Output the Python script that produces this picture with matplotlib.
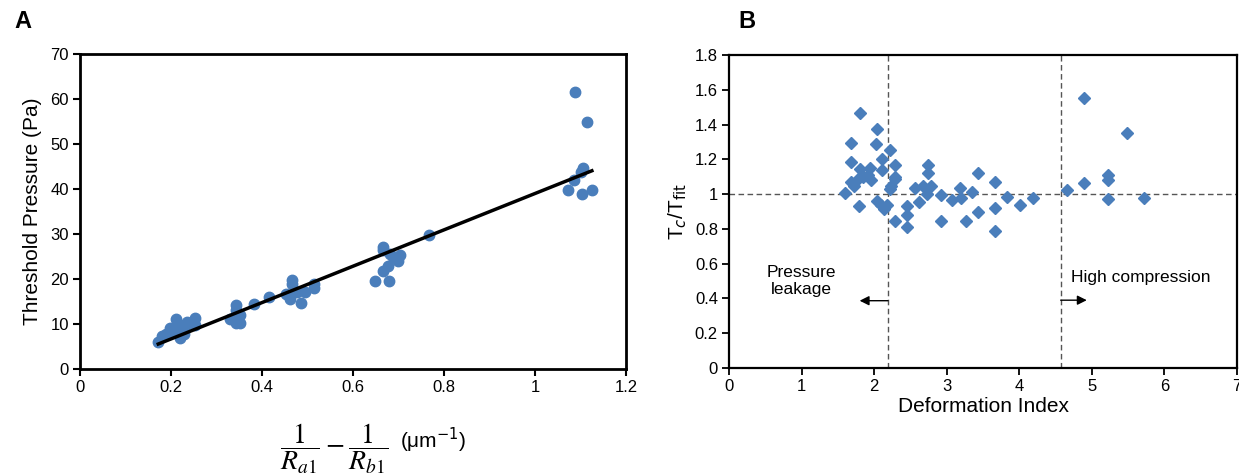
import matplotlib
matplotlib.use("Agg")
import matplotlib.pyplot as plt
import numpy as np

plt.rcParams['font.family'] = ['Liberation Sans', 'DejaVu Sans']

# ---------------- Panel A data ----------------
a_x = [1.087, 1.115, 1.105, 1.101, 1.086, 1.072, 1.103, 1.125,
       0.766, 0.665, 0.665, 0.681, 0.687, 0.704, 0.700, 0.678, 0.666, 0.649, 0.680,
       0.466, 0.466, 0.452, 0.462, 0.478, 0.494, 0.485, 0.514, 0.514, 0.415, 0.382,
       0.342, 0.342, 0.330, 0.348, 0.352, 0.342, 0.352,
       0.172, 0.181, 0.198, 0.212, 0.216, 0.220, 0.220, 0.232, 0.236, 0.252, 0.252,
       0.205, 0.189, 0.228]
a_y = [61.5, 55.0, 44.7, 43.8, 42.0, 39.7, 38.8, 39.7,
       29.8, 27.2, 26.5, 25.6, 24.9, 25.4, 24.1, 22.8, 21.8, 19.5, 19.5,
       19.7, 18.9, 16.7, 15.6, 17.1, 17.2, 14.6, 18.9, 18.0, 15.9, 14.5,
       14.3, 13.2, 11.1, 10.8, 10.2, 10.2, 12.1,
       6.1, 7.4, 9.1, 11.1, 10.0, 8.2, 6.8, 9.7, 10.5, 11.3, 9.7,
       8.2, 7.8, 7.8]
fit_slope = 40.4
fit_intercept = -1.4
a_xticks = [0, 0.2, 0.4, 0.6, 0.8, 1, 1.2]
a_xticklabels = ['0', '0.2', '0.4', '0.6', '0.8', '1', '1.2']
a_yticks = [0, 10, 20, 30, 40, 50, 60, 70]

# ---------------- Panel B data ----------------
b_x = [1.807, 2.045, 2.022, 1.683, 2.219, 1.683, 2.287, 1.807, 1.944, 2.104,
       2.104, 1.921, 1.958, 1.853, 1.784, 1.683, 1.729, 2.287, 2.287, 2.232,
       2.219, 1.592, 1.798, 2.036, 2.095, 2.136, 2.177, 2.287, 2.447, 2.447,
       2.447, 2.562, 2.676, 2.790, 2.736, 2.736, 2.722, 2.617, 2.928, 2.928,
       3.074, 3.179, 3.202, 3.262, 3.349, 3.431, 3.431, 3.660, 3.660, 3.660,
       3.829, 4.003, 4.195, 4.657, 4.886, 4.886, 5.229, 5.229, 5.229, 5.489,
       5.718]
b_y = [1.469, 1.373, 1.287, 1.296, 1.254, 1.187, 1.168, 1.143, 1.149, 1.136,
       1.200, 1.111, 1.082, 1.101, 1.086, 1.067, 1.047, 1.086, 1.101, 1.044,
       1.028, 1.009, 0.929, 0.961, 0.938, 0.915, 0.938, 0.843, 0.929, 0.877,
       0.810, 1.038, 1.044, 1.044, 1.168, 1.124, 1.002, 0.954, 0.996, 0.843,
       0.967, 1.034, 0.977, 0.843, 1.011, 1.124, 0.896, 1.072, 0.919, 0.789,
       0.982, 0.938, 0.977, 1.021, 1.551, 1.063, 1.111, 1.082, 0.971, 1.354,
       0.980]
b_xticks = [0, 1, 2, 3, 4, 5, 6, 7]
b_yticks = [0, 0.2, 0.4, 0.6, 0.8, 1.0, 1.2, 1.4, 1.6, 1.8]
b_yticklabels = ['0', '0.2', '0.4', '0.6', '0.8', '1', '1.2', '1.4', '1.6', '1.8']
leak_threshold = 2.19
compress_threshold = 4.57
ref_level = 1.0

blue = '#4a7ebb'

W, H = 1239, 473
fig = plt.figure(figsize=(W / 100, H / 100), dpi=100)

# ---------------- Panel A ----------------
axA = fig.add_axes([80 / W, 1 - 369 / H, 546 / W, 315 / H])
axA.errorbar(a_x, a_y, xerr=0.006, yerr=0.4, fmt='o', ms=7.5, color=blue,
             ecolor=blue, elinewidth=1.5, capsize=0, zorder=3)
xf = np.array([min(a_x), max(a_x)])
axA.plot(xf, fit_slope * xf + fit_intercept, color='black', lw=2.5, zorder=4)
axA.set_xlim(0, 1.2)
axA.set_ylim(0, 70)
axA.set_xticks(a_xticks)
axA.set_xticklabels(a_xticklabels)
axA.set_yticks(a_yticks)
for s in axA.spines.values():
    s.set_linewidth(2.0)
    s.set_color('black')
axA.tick_params(direction='out', length=5, width=1.5, labelsize=12, pad=3)
axA.set_ylabel('Threshold Pressure (Pa)', fontsize=15, labelpad=6)
fig.text(280 / W, 1 - 449 / H, r'$\dfrac{1}{R_{a1}}-\dfrac{1}{R_{b1}}$',
         fontsize=20, math_fontfamily='stix', ha='left', va='center')
fig.text(400 / W, 1 - 440 / H, '(μm$^{-1}$)', fontsize=15, ha='left', va='center')
fig.text(14 / W, 1 - 22 / H, 'A', fontsize=17, fontweight='bold', ha='left', va='center')

# ---------------- Panel B ----------------
axB = fig.add_axes([729 / W, 1 - 368 / H, 508 / W, 313 / H])
axB.errorbar(b_x, b_y, xerr=0.05, yerr=0.025, fmt='D', ms=6.5, color=blue,
             ecolor=blue, elinewidth=1.2, capsize=0, zorder=3)
dash = dict(color='#555555', lw=1.0, ls=(0, (4, 2.5)), zorder=2)
axB.axhline(ref_level, **dash)
axB.axvline(leak_threshold, **dash)
axB.axvline(compress_threshold, **dash)
axB.set_xlim(0, 7)
axB.set_ylim(0, 1.8)
axB.set_xticks(b_xticks)
axB.set_yticks(b_yticks)
axB.set_yticklabels(b_yticklabels)
for s in axB.spines.values():
    s.set_linewidth(1.6)
    s.set_color('black')
axB.tick_params(direction='out', length=5, width=1.3, labelsize=12, pad=3)
axB.set_xlabel('Deformation Index', fontsize=15, labelpad=2)
axB.set_ylabel(r'T$_c$/T$_{\rm fit}$', fontsize=15, labelpad=4)
axB.text(1.0, 0.50, 'Pressure\nleakage', fontsize=12.5, ha='center', va='center',
         linespacing=1.1)
axB.text(4.71, 0.52, 'High compression', fontsize=12.5, ha='left', va='center')
axB.annotate('', xy=(1.80, 0.387), xytext=(leak_threshold, 0.387),
             arrowprops=dict(arrowstyle='-|>', color='black', lw=1.0,
                             mutation_scale=14, shrinkA=0, shrinkB=0))
axB.annotate('', xy=(4.93, 0.39), xytext=(compress_threshold, 0.39),
             arrowprops=dict(arrowstyle='-|>', color='black', lw=1.0,
                             mutation_scale=14, shrinkA=0, shrinkB=0))
fig.text(738 / W, 1 - 22 / H, 'B', fontsize=17, fontweight='bold', ha='left', va='center')

fig.savefig('out.png', dpi=100)
